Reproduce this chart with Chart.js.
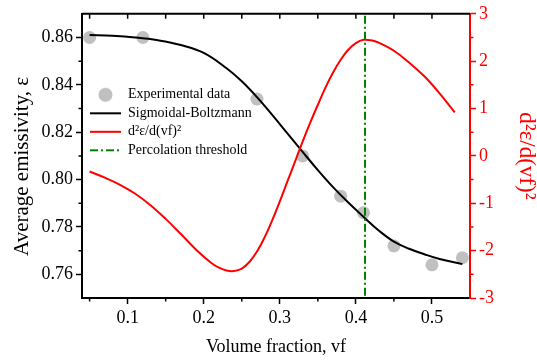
<!DOCTYPE html>
<html>
<head>
<meta charset="utf-8">
<script src="https://cdn.jsdelivr.net/npm/chart.js@4"></script>
<style>
  body { margin: 0; background: #fff; }
  canvas { display: block; }
</style>
</head>
<body>
<canvas id="myChart" width="537" height="363"></canvas>
<script>
// experimental points
const expX = [0.05, 0.12, 0.27, 0.33, 0.38, 0.41, 0.45, 0.50, 0.54];
const expY = [0.860, 0.860, 0.834, 0.810, 0.793, 0.786, 0.772, 0.764, 0.767];

// Sigmoidal-Boltzmann fit
const fitX = [0.05, 0.08, 0.11, 0.14, 0.17, 0.20, 0.23, 0.25, 0.27, 0.29, 0.31, 0.33, 0.35, 0.37, 0.39, 0.41, 0.43, 0.45, 0.47, 0.49, 0.51, 0.54];
const fitY = [0.8610, 0.8607, 0.8600, 0.8588, 0.8568, 0.8535, 0.8470, 0.8415, 0.8348, 0.8273, 0.8195, 0.8117, 0.8040, 0.7968, 0.7903, 0.7843, 0.7785, 0.7738, 0.7708, 0.7685, 0.7665, 0.7643];

// second derivative, right axis
const d2X = [0.05, 0.07, 0.09, 0.11, 0.13, 0.15, 0.17, 0.19, 0.21, 0.22, 0.23, 0.24, 0.25, 0.26, 0.27, 0.28, 0.29, 0.30, 0.31, 0.32, 0.33, 0.34, 0.35, 0.36, 0.37, 0.38, 0.39, 0.40, 0.41, 0.42, 0.43, 0.45, 0.47, 0.49, 0.51, 0.53];
const d2Y = [-0.33, -0.46, -0.61, -0.80, -1.04, -1.33, -1.65, -1.98, -2.26, -2.36, -2.42, -2.43, -2.38, -2.24, -2.02, -1.72, -1.36, -0.96, -0.54, -0.12, 0.30, 0.70, 1.08, 1.44, 1.76, 2.03, 2.24, 2.38, 2.45, 2.44, 2.39, 2.22, 1.97, 1.68, 1.32, 0.92];

// percolation threshold
const percX = [0.412, 0.412];
const percY = [-2.95, 3];

// ticks
const xMajor = [0.1, 0.2, 0.3, 0.4, 0.5];
const xMinor = [0.05, 0.15, 0.25, 0.35, 0.45];
const yMajor = [0.76, 0.78, 0.80, 0.82, 0.84, 0.86];
const yMinor = [0.77, 0.79, 0.81, 0.83, 0.85];
const y2Major = [-3, -2, -1, 0, 1, 2, 3];
const y2Minor = [-2.5, -1.5, -0.5, 0.5, 1.5, 2.5];

const labels = ["Experimental data", "Sigmoidal-Boltzmann", "d\u00b2\u03b5/d(vf)\u00b2", "Percolation threshold"];

const serif = "'Liberation Serif', 'Times New Roman', serif";

function Pairs(xs, ys) {
  let out = [];
  for (let i = 0; i < xs.length; i++) {
    out.push({ x: xs[i], y: ys[i] });
  }
  return out;
}

function Mark(kind, color, dash) {
  const c = document.createElement("canvas");
  c.width = 31;
  c.height = 16;
  const g = c.getContext("2d");
  if (kind == "dot") {
    g.fillStyle = color;
    g.beginPath();
    g.arc(15.5, 8, 7, 0, Math.PI * 2);
    g.fill();
  } else {
    g.strokeStyle = color;
    g.lineWidth = 2;
    g.setLineDash(dash);
    g.beginPath();
    g.moveTo(0, 8);
    g.lineTo(31, 8);
    g.stroke();
  }
  return c;
}

const marks = [
  Mark("dot", "#c0c0c0", []),
  Mark("line", "#000000", []),
  Mark("line", "#ff0000", []),
  Mark("line", "#008000", [8, 3, 2, 3]),
];

function SetTicks(values) {
  return function (scale) {
    scale.ticks = values.map((v) => ({ value: v }));
  };
}

const frame = {
  id: "frame",
  afterLayout(chart) {
    const a = chart.chartArea;
    const lg = chart.legend;
    lg.left = a.left + 3.5;
    lg.top = a.top + 69.5;
    lg.right = a.right;
    lg.bottom = a.bottom;
  },
  afterDraw(chart) {
    const ctx = chart.ctx;
    const a = chart.chartArea;
    const sx = chart.scales.x;
    const sy = chart.scales.y;
    const sy2 = chart.scales.y2;
    ctx.save();
    // top border
    ctx.strokeStyle = "#000";
    ctx.lineWidth = 2;
    ctx.beginPath();
    ctx.moveTo(a.left, a.top);
    ctx.lineTo(a.right, a.top);
    ctx.stroke();
    ctx.lineWidth = 1.5;
    ctx.beginPath();
    // top ticks point inward
    xMajor.concat(xMinor).forEach((v) => {
      const px = sx.getPixelForValue(v);
      ctx.moveTo(px, a.top);
      ctx.lineTo(px, a.top + 5);
    });
    // minor ticks bottom and left
    xMinor.forEach((v) => {
      const px = sx.getPixelForValue(v);
      ctx.moveTo(px, a.bottom);
      ctx.lineTo(px, a.bottom + 3.5);
    });
    yMinor.forEach((v) => {
      const py = sy.getPixelForValue(v);
      ctx.moveTo(a.left, py);
      ctx.lineTo(a.left - 3.5, py);
    });
    ctx.stroke();
    ctx.strokeStyle = "#ff0000";
    ctx.beginPath();
    y2Minor.forEach((v) => {
      const py = sy2.getPixelForValue(v);
      ctx.moveTo(a.right, py);
      ctx.lineTo(a.right + 3.5, py);
    });
    ctx.stroke();
    ctx.restore();
  },
};

const data = {
  datasets: [
    {
      label: labels[0],
      data: Pairs(expX, expY),
      yAxisID: "y",
      showLine: false,
      pointRadius: 6.5,
      pointHoverRadius: 6.5,
      pointBackgroundColor: "#c0c0c0",
      pointBorderWidth: 0,
      backgroundColor: "#c0c0c0",
      borderColor: "#c0c0c0",
      order: 4,
    },
    {
      label: labels[1],
      data: Pairs(fitX, fitY),
      yAxisID: "y",
      showLine: true,
      borderColor: "#000000",
      backgroundColor: "#000000",
      borderWidth: 2,
      pointRadius: 0,
      tension: 0.4,
      order: 3,
    },
    {
      label: labels[2],
      data: Pairs(d2X, d2Y),
      yAxisID: "y2",
      showLine: true,
      borderColor: "#ff0000",
      backgroundColor: "#ff0000",
      borderWidth: 2,
      pointRadius: 0,
      tension: 0.4,
      order: 2,
    },
    {
      label: labels[3],
      data: Pairs(percX, percY),
      yAxisID: "y2",
      showLine: true,
      borderColor: "#008000",
      backgroundColor: "#008000",
      borderWidth: 2,
      borderDash: [8, 3, 2, 3],
      pointRadius: 0,
      order: 1,
    },
  ],
};

const config = {
  type: "scatter",
  data: data,
  options: {
    responsive: false,
    animation: false,
    devicePixelRatio: 1,
    layout: { padding: { top: 13, left: 0, right: 0, bottom: 0 } },
    plugins: {
      tooltip: { enabled: false },
      legend: {
        position: "chartArea",
        align: "start",
        labels: {
          usePointStyle: true,
          pointStyleWidth: 31,
          padding: 4.5,
          color: "#000",
          font: { family: serif, size: 14 },
          generateLabels: function (chart) {
            const items = Chart.defaults.plugins.legend.labels.generateLabels(chart);
            items.sort((p, q) => p.datasetIndex - q.datasetIndex);
            items.forEach((item) => {
              item.pointStyle = marks[item.datasetIndex];
            });
            return items;
          },
        },
      },
    },
    scales: {
      x: {
        type: "linear",
        position: "bottom",
        min: 0.04,
        max: 0.55,
        afterBuildTicks: SetTicks(xMajor),
        afterFit: (scale) => { scale.height = 65; },
        ticks: {
          color: "#000",
          font: { family: serif, size: 18 },
          padding: 3,
          maxRotation: 0,
          callback: (v) => v.toFixed(1),
        },
        grid: { drawOnChartArea: false, tickLength: 6, tickWidth: 1.5, tickColor: "#000" },
        border: { color: "#000", width: 2 },
        title: {
          display: true,
          text: "Volume fraction, vf",
          color: "#000",
          font: { family: serif, size: 18 },
          padding: { top: 0, bottom: 5 },
        },
      },
      y: {
        type: "linear",
        position: "left",
        min: 0.75,
        max: 0.87,
        afterBuildTicks: SetTicks(yMajor),
        afterFit: (scale) => { scale.width = 82; },
        ticks: {
          color: "#000",
          font: { family: serif, size: 18 },
          padding: 3,
          callback: (v) => v.toFixed(2),
        },
        grid: { drawOnChartArea: false, tickLength: 6, tickWidth: 1.5, tickColor: "#000" },
        border: { color: "#000", width: 2 },
        title: {
          display: true,
          // trailing spaces push the rotated text a little lower, as in the original
          text: "Average emissivity, \u03b5    ",
          color: "#000",
          font: { family: serif, size: 21 },
          padding: { top: 10, bottom: 0 },
        },
      },
      y2: {
        type: "linear",
        position: "right",
        min: -3,
        max: 3,
        afterBuildTicks: SetTicks(y2Major),
        afterFit: (scale) => { scale.width = 67; },
        ticks: {
          color: "#ff0000",
          font: { family: serif, size: 18 },
          padding: 3,
          callback: (v) => String(v),
        },
        grid: { drawOnChartArea: false, tickLength: 6, tickWidth: 1.5, tickColor: "#ff0000" },
        border: { color: "#ff0000", width: 2 },
        title: {
          display: true,
          text: "d\u00b2\u03b5/d(vf)\u00b2",
          color: "#ff0000",
          font: { family: serif, size: 23 },
          padding: { top: -3, bottom: 0 },
        },
      },
    },
  },
  plugins: [frame],
};

new Chart(document.getElementById("myChart"), config);
</script>
</body>
</html>
